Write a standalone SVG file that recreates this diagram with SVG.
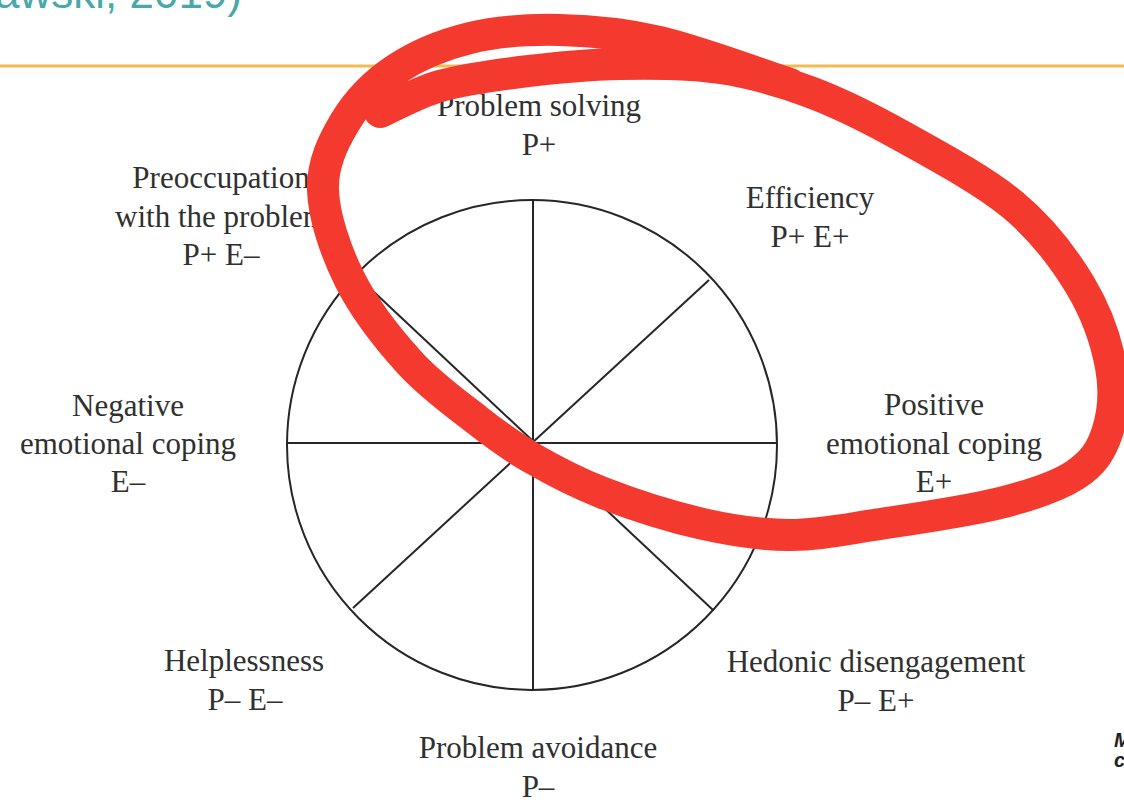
<svg xmlns="http://www.w3.org/2000/svg" width="1124" height="802" viewBox="0 0 1124 802">
<style>
.lbl{font-family:"Liberation Serif","Times New Roman",serif;font-size:31px;fill:#303030;text-anchor:middle}
.ln{stroke:#262626;stroke-width:2;fill:none}
.ref{font-family:"Liberation Sans",Arial,sans-serif;font-size:44px;fill:#4aa9a8}
.edge{font-family:"Liberation Sans",Arial,sans-serif;font-size:20px;font-weight:bold;font-style:italic;fill:#222}
</style>
<rect width="1124" height="802" fill="#ffffff"/>
<text class="ref" x="-5" y="8">awski, 2019)</text>
<line x1="0" y1="66" x2="1124" y2="66" stroke="#f2bb52" stroke-width="3"/>
<text class="edge" x="1114" y="747">M</text>
<text class="edge" x="1114" y="767">c</text>
<g id="connectors">
<circle class="ln" cx="532" cy="445" r="245"/>
<line class="ln" x1="533" y1="201" x2="533" y2="690"/>
<line class="ln" x1="287" y1="443" x2="777" y2="443"/>
<line class="ln" x1="709" y1="280" x2="353" y2="608"/>
<line class="ln" x1="358" y1="277" x2="713" y2="610"/>
</g>
<g id="problem-solving"><text class="lbl" x="539" y="116">Problem solving</text><text class="lbl" x="539" y="155">P+</text></g>
<g id="preoccupation"><text class="lbl" x="221" y="188">Preoccupation</text><text class="lbl" x="221" y="227">with the problem</text><text class="lbl" x="221" y="265">P+ E–</text></g>
<g id="efficiency"><text class="lbl" x="810" y="208">Efficiency</text><text class="lbl" x="810" y="247">P+ E+</text></g>
<g id="negative-emotional-coping"><text class="lbl" x="128" y="416">Negative</text><text class="lbl" x="128" y="454">emotional coping</text><text class="lbl" x="128" y="492">E–</text></g>
<g id="positive-emotional-coping"><text class="lbl" x="934" y="415">Positive</text><text class="lbl" x="934" y="454">emotional coping</text><text class="lbl" x="934" y="492">E+</text></g>
<g id="helplessness"><text class="lbl" x="244" y="671">Helplessness</text><text class="lbl" x="245" y="710">P– E–</text></g>
<g id="hedonic-disengagement"><text class="lbl" x="876" y="672">Hedonic disengagement</text><text class="lbl" x="876" y="711">P– E+</text></g>
<g id="problem-avoidance"><text class="lbl" x="538" y="758">Problem avoidance</text><text class="lbl" x="538" y="797">P–</text></g>
<g id="annotation">
<path d="M380,112 C390,107.7 416.7,92.7 440,86 C463.3,79.3 490,75.7 520,72 C550,68.3 586.7,64.7 620,64 C653.3,63.3 688.3,63.3 720,68 C751.7,72.7 780,80.8 810,92 C840,103.2 866.2,116.2 900,135 C933.8,153.8 983,180 1013,205 C1043,230 1063.7,258 1080,285 C1096.3,312 1106.5,342.3 1111,367 C1115.5,391.7 1113,415 1107,433 C1101,451 1092.8,463.3 1075,475 C1057.2,486.7 1032.5,494.8 1000,503 C967.5,511.2 915,518.7 880,524 C845,529.3 819.5,535 790,535 C760.5,535 734.2,531 703,524 C671.8,517 631.8,504.2 603,493 C574.2,481.8 551,469.2 530,457 C509,444.8 497,435.7 477,420 C457,404.3 431.2,386.3 410,363 C388.8,339.7 364.5,308.8 350,280 C335.5,251.2 323.8,216.3 323,190 C322.2,163.7 333,142 345,122 C357,102 374.2,84 395,70 C415.8,56 442.5,44.7 470,38 C497.5,31.3 528.3,29.3 560,30 C591.7,30.7 621.7,33 660,42 C698.3,51 768.3,77 790,84" fill="none" stroke="#f43a2f" stroke-width="32" stroke-linecap="round" stroke-linejoin="round"/>
</g>
</svg>
